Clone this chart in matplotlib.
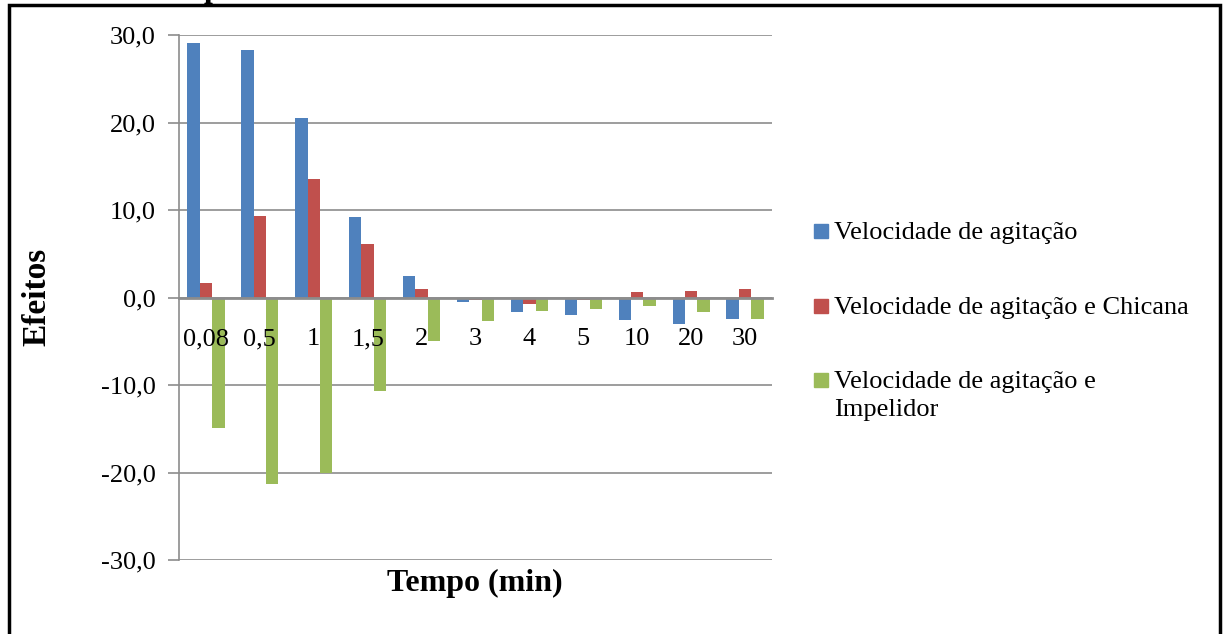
import numpy as np
import matplotlib.pyplot as plt
from matplotlib.patches import Rectangle

plt.rcParams['font.family'] = ['Liberation Serif', 'DejaVu Serif']

# Efeitos por tempo de amostragem
tempos = ['0,08', '0,5', '1', '1,5', '2', '3', '4', '5', '10', '20', '30']
vel_agitacao = [29.1, 28.3, 20.5, 9.2, 2.5, -0.5, -1.6, -2.0, -2.6, -3.0, -2.5]
vel_chicana = [1.7, 9.3, 13.6, 6.1, 1.0, -0.3, -0.7, -0.3, 0.6, 0.7, 1.0]
vel_impelidor = [-14.9, -21.3, -20.1, -10.7, -5.0, -2.7, -1.5, -1.3, -1.0, -1.7, -2.4]
series = ['Velocidade de agitação', 'Velocidade de agitação e Chicana',
          'Velocidade de agitação e\nImpelidor']
cores = ['#4f81bd', '#c0504d', '#9bbb59']

W, H = 1223, 634
fig = plt.figure(figsize=(W / 100, H / 100), dpi=100)
ax = fig.add_axes([179 / W, 1 - 560 / H, (772 - 179) / W, (560 - 35) / H])

x = np.arange(len(tempos))
w = 0.23
for i, (vals, cor) in enumerate(zip([vel_agitacao, vel_chicana, vel_impelidor], cores)):
    ax.bar(x + (i - 1) * w, vals, w, color=cor, zorder=3)

ax.set_xlim(-0.5, len(tempos) - 0.5)
ax.set_ylim(-30, 30)
ax.spines['bottom'].set_position(('data', 0))
ax.spines['bottom'].set_color('#8c8c8c')
ax.spines['bottom'].set_linewidth(2)
ax.spines['bottom'].set_zorder(4)
ax.spines['left'].set_color('#8c8c8c')
ax.spines['left'].set_linewidth(1.2)
ax.spines['right'].set_visible(False)
ax.spines['top'].set_visible(False)

yt = np.arange(-30, 31, 10)
ax.set_yticks(yt)
ax.set_yticklabels([f'{v:.1f}'.replace('.', ',') for v in yt])
ax.yaxis.grid(True, color='#8c8c8c', linewidth=1.2, zorder=0)
ax.tick_params(axis='y', length=8, color='#8c8c8c', width=1.2, pad=9, labelsize=19)

# rótulos das categorias por cima das barras
ax.set_xticks(x)
ax.set_xticklabels(tempos)
ax.tick_params(axis='x', length=0, pad=22, labelsize=19)
ax.xaxis.set_zorder(5)

fig.text(37 / W, 1 - 297 / H, 'Efeitos', fontsize=24, fontweight='bold',
         rotation=90, ha='center', va='center')
fig.text(475 / W, 1 - 583 / H, 'Tempo (min)', fontsize=23, fontweight='bold',
         ha='center', va='center')

# legenda
leg_y = [231, 306, 380]
for nome, cor, yy in zip(series, cores, leg_y):
    fig.add_artist(Rectangle((814 / W, 1 - (yy + 7) / H), 14 / W, 14 / H,
                             transform=fig.transFigure, color=cor))
    for k, linha in enumerate(nome.split('\n')):
        fig.text(834 / W, 1 - (yy + 2 + 28 * k) / H, linha, fontsize=19, va='center')

# moldura externa
fig.add_artist(Rectangle((9 / W, -0.05), (1220 - 9) / W, 1 - 5 / H + 0.05,
                         transform=fig.transFigure, fill=False, edgecolor='black', linewidth=2.5))
fig.text(204 / W, 1 + 3 / H, 'p', fontsize=23, fontweight='bold', va='baseline')

fig.savefig('out.png', dpi=100)
